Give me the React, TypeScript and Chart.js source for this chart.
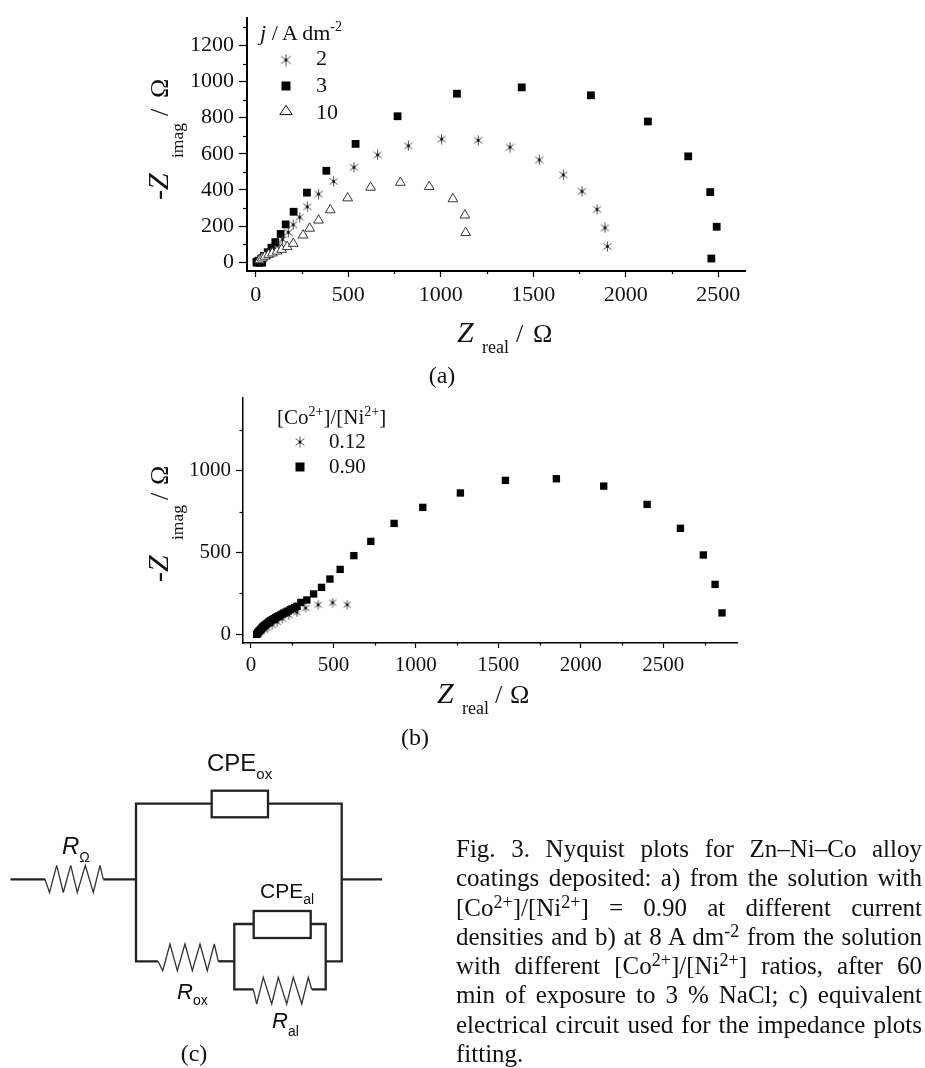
import React, { useEffect, useRef } from "react";
import { Chart, registerables } from "chart.js";

Chart.register(...registerables);

const SERIF = '"Liberation Serif", serif';
const SANS = '"Liberation Sans", sans-serif';

// Panel (a)
const aStarX = [20, 40, 60, 80, 100, 120, 145, 176, 203, 238, 279, 340, 421, 531, 659, 825, 1005, 1203, 1375, 1533, 1663, 1764, 1845, 1888, 1901];
const aStarY = [8, 20, 35, 50, 70, 95, 125, 165, 207, 249, 307, 377, 447, 525, 594, 644, 681, 675, 637, 566, 483, 392, 292, 190, 87];
const aSquareX = [5, 20, 35, 5, 15, 30, 45, 65, 85, 106, 135, 162, 205, 277, 382, 540, 767, 1088, 1438, 1812, 2120, 2338, 2457, 2492, 2463];
const aSquareY = [-3, -3, -3, 2, 8, 20, 35, 55, 80, 111, 156, 209, 279, 385, 506, 655, 808, 933, 968, 924, 779, 586, 388, 196, 20];
const aTriangleX = [20, 35, 50, 70, 90, 115, 140, 170, 203, 256, 292, 340, 403, 497, 621, 782, 938, 1066, 1131, 1135];
const aTriangleY = [12, 22, 32, 42, 50, 60, 70, 85, 103, 149, 187, 232, 289, 355, 414, 441, 418, 350, 260, 163];
const aXTicks = [0, 500, 1000, 1500, 2000, 2500];
const aXMinor = [250, 750, 1250, 1750, 2250];
const aYTicks = [0, 200, 400, 600, 800, 1000, 1200];
const aYMinor = [100, 300, 500, 700, 900, 1100, 1300];

// Panel (b)
const bStarX = [45, 60, 80, 100, 130, 160, 190, 230, 279, 331, 408, 495, 584];
const bStarY = [8, 18, 30, 40, 58, 75, 95, 118, 134, 161, 181, 194, 181];
const bSquareX = [35, 38, 42, 46, 50, 55, 60, 65, 70, 75, 82, 90, 98, 105, 112, 120, 130, 140, 150, 160, 170, 180, 190, 200, 212, 225, 238, 250, 265, 280, 303, 339, 380, 428, 479, 541, 624, 727, 868, 1042, 1270, 1543, 1852, 2139, 2402, 2604, 2743, 2814, 2856];
const bSquareY = [0, 3, 8, 15, 20, 25, 30, 36, 42, 48, 54, 60, 66, 72, 78, 84, 90, 96, 102, 108, 113, 118, 124, 130, 136, 142, 150, 156, 164, 172, 195, 210, 247, 287, 338, 397, 481, 568, 678, 776, 864, 941, 951, 906, 794, 648, 485, 305, 131];
const bXTicks = [0, 500, 1000, 1500, 2000, 2500];
const bXMinor = [250, 750, 1250, 1750, 2250, 2750];
const bYTicks = [0, 500, 1000];
const bYMinor = [250, 750, 1250];

const captionLines = [
  <>Fig. 3. Nyquist plots for Zn–Ni–Co alloy</>,
  <>coatings deposited: a) from the solution with</>,
  <>[Co<Sup>2+</Sup>]/[Ni<Sup>2+</Sup>] = 0.90 at different current</>,
  <>densities and b) at 8 A dm<Sup>-2</Sup> from the solution</>,
  <>with different [Co<Sup>2+</Sup>]/[Ni<Sup>2+</Sup>] ratios, after 60</>,
  <>min of exposure to 3 % NaCl; c) equivalent</>,
  <>electrical circuit used for the impedance plots</>,
];

function Sup({ children }: { children: React.ReactNode }) {
  return <sup style={{ fontSize: "72%", lineHeight: 0, verticalAlign: "0.42em" }}>{children}</sup>;
}

function asterisk(size: number) {
  const c = document.createElement("canvas");
  c.width = size;
  c.height = size;
  const g = c.getContext("2d")!;
  const m = size / 2;
  g.strokeStyle = "#3a3a3a";
  g.lineWidth = 0.9;
  for (const a of [90, 38, -38]) {
    const dx = Math.cos((a * Math.PI) / 180) * (m - 0.4);
    const dy = Math.sin((a * Math.PI) / 180) * (m - 0.4);
    g.beginPath();
    g.moveTo(m - dx, m + dy);
    g.lineTo(m + dx, m - dy);
    g.stroke();
  }
  g.fillStyle = "#000";
  g.fillRect(m - 1.2, m - 1.2, 2.4, 2.4);
  return c;
}

function points(xs: number[], ys: number[]) {
  return xs.map((x, i) => ({ x, y: ys[i] }));
}

type LegendMark = { style: any; radius: number; x: number; y: number; fill: string };

function panel(
  canvas: HTMLCanvasElement,
  o: {
    datasets: any[];
    xr: [number, number];
    yr: [number, number];
    xTicks: number[];
    xMinor: number[];
    yTicks: number[];
    yMinor: number[];
    leftW: number;
    bottomH: number;
    top: number;
    right: number;
    font: number;
    axis: number;
    xTickLen: number;
    yTickLen: number;
    xPad: number;
    yPad: number;
    legend: LegendMark[];
  }
) {
  const ticksPlugin = {
    id: "minorTicksAndKey",
    afterDraw(chart: any) {
      const g = chart.ctx;
      const { x, y } = chart.scales;
      g.save();
      g.strokeStyle = "#000";
      g.lineWidth = 1.2;
      for (const v of o.xMinor) {
        const p = Math.round(x.getPixelForValue(v)) + 0.5;
        g.beginPath();
        g.moveTo(p, chart.chartArea.bottom);
        g.lineTo(p, chart.chartArea.bottom + o.xTickLen / 2);
        g.stroke();
      }
      for (const v of o.yMinor) {
        const p = Math.round(y.getPixelForValue(v)) + 0.5;
        g.beginPath();
        g.moveTo(chart.chartArea.left, p);
        g.lineTo(chart.chartArea.left - o.yTickLen / 2, p);
        g.stroke();
      }
      for (const m of o.legend) {
        const r = m.radius;
        if (m.style instanceof HTMLCanvasElement) {
          g.drawImage(m.style, m.x - m.style.width / 2, m.y - m.style.height / 2);
        } else if (m.style === "rect") {
          g.fillStyle = m.fill;
          g.fillRect(m.x - r, m.y - r, r * 2, r * 2);
        } else {
          g.strokeStyle = "#111";
          g.lineWidth = 1;
          g.beginPath();
          g.moveTo(m.x - r, m.y + r * 0.58);
          g.lineTo(m.x + r, m.y + r * 0.58);
          g.lineTo(m.x, m.y - r * 0.9);
          g.closePath();
          g.stroke();
        }
      }
      g.restore();
    },
  };

  const axis = (
    side: "x" | "y",
    range: [number, number],
    ticks: number[],
    tl: number,
    pad: number,
    size: number
  ) => ({
    type: "linear",
    position: side === "x" ? "bottom" : "left",
    min: range[0],
    max: range[1],
    afterBuildTicks: (s: any) => {
      s.ticks = ticks.map((value) => ({ value }));
    },
    afterFit: (s: any) => {
      if (side === "x") s.height = size;
      else s.width = size;
    },
    border: { display: true, color: "#000", width: o.axis },
    grid: { drawOnChartArea: false, drawTicks: true, tickLength: tl, color: "#000", tickWidth: 1.2 },
    ticks: {
      autoSkip: false,
      maxRotation: 0,
      color: "#111",
      padding: pad,
      font: { family: SERIF, size: o.font },
      callback: (v: number) => String(v),
    },
  });

  return new Chart(canvas, {
    type: "scatter",
    data: { datasets: o.datasets },
    options: {
      responsive: false,
      animation: false,
      clip: false,
      layout: { padding: { top: o.top, right: o.right, left: 0, bottom: 0 } },
      plugins: { legend: { display: false }, title: { display: false }, tooltip: { enabled: false } },
      scales: {
        x: axis("x", o.xr, o.xTicks, o.xTickLen, o.xPad, o.bottomH),
        y: axis("y", o.yr, o.yTicks, o.yTickLen, o.yPad, o.leftW),
      },
    } as any,
    plugins: [ticksPlugin as any],
  } as any);
}

export default function App() {
  const refA = useRef<HTMLCanvasElement>(null);
  const refB = useRef<HTMLCanvasElement>(null);

  useEffect(() => {
    const starA = asterisk(11);
    const starB = asterisk(10);
    const a = panel(refA.current!, {
      xr: [-47, 2645],
      yr: [-49, 1351],
      xTicks: aXTicks,
      xMinor: aXMinor,
      yTicks: aYTicks,
      yMinor: aYMinor,
      leftW: 147,
      bottomH: 49,
      top: 14,
      right: 35,
      font: 22,
      axis: 2,
      xTickLen: 6,
      yTickLen: 8,
      xPad: 5,
      yPad: 5,
      legend: [
        { style: asterisk(13), radius: 6, x: 186, y: 60, fill: "#000" },
        { style: "rect", radius: 4.5, x: 186, y: 86, fill: "#000" },
        { style: "triangle", radius: 6.2, x: 186, y: 111, fill: "#fff" },
      ],
      datasets: [
        {
          label: "10",
          data: points(aTriangleX, aTriangleY),
          order: 1,
          pointStyle: "triangle",
          pointRadius: 5.6,
          pointBackgroundColor: "#fff",
          pointBorderColor: "#222",
          pointBorderWidth: 0.9,
          showLine: false,
        },
        {
          label: "2",
          data: points(aStarX, aStarY),
          order: 2,
          pointStyle: starA,
          pointRadius: 5,
          showLine: false,
        },
        {
          label: "3",
          data: points(aSquareX, aSquareY),
          order: 3,
          pointStyle: "rect",
          pointRadius: 5.5,
          pointBackgroundColor: "#000",
          pointBorderColor: "#000",
          pointBorderWidth: 0,
          showLine: false,
        },
      ],
    });
    const b = panel(refB.current!, {
      xr: [-48, 2947],
      yr: [-53, 1447],
      xTicks: bXTicks,
      xMinor: bXMinor,
      yTicks: bYTicks,
      yMinor: bYMinor,
      leftW: 143,
      bottomH: 47,
      top: 17,
      right: 43,
      font: 21,
      axis: 1.5,
      xTickLen: 5,
      yTickLen: 7,
      xPad: 5,
      yPad: 5,
      legend: [
        { style: asterisk(12), radius: 5, x: 200, y: 62, fill: "#000" },
        { style: "rect", radius: 4.5, x: 200, y: 87, fill: "#000" },
      ],
      datasets: [
        {
          label: "0.90",
          data: points(bSquareX, bSquareY),
          order: 1,
          pointStyle: "rect",
          pointRadius: 5.2,
          pointBackgroundColor: "#000",
          pointBorderColor: "#000",
          pointBorderWidth: 0,
          showLine: false,
        },
        {
          label: "0.12",
          data: points(bStarX, bStarY),
          order: 2,
          pointStyle: starB,
          pointRadius: 5,
          showLine: false,
        },
      ],
    });
    return () => {
      a.destroy();
      b.destroy();
    };
  }, []);

  const wire = { fill: "none", stroke: "#222", strokeWidth: 2.3, strokeLinejoin: "miter" as const };
  const thin = { fill: "none", stroke: "#333", strokeWidth: 1.3 };
  const sans = { fontFamily: SANS, fill: "#111" };
  const serif = { fontFamily: SERIF, fill: "#111" };

  return (
    <div style={{ position: "absolute", left: 0, top: 0, width: 925, height: 1068, background: "#fff", overflow: "hidden" }}>
      <canvas ref={refA} width={680} height={320} style={{ position: "absolute", left: 100, top: 0 }} />
      <canvas ref={refB} width={680} height={310} style={{ position: "absolute", left: 100, top: 380 }} />

      <svg width={925} height={1068} style={{ position: "absolute", left: 0, top: 0 }}>
        {/* Panel (a) text */}
        <text x={260} y={40} {...serif} fontSize={22}>
          <tspan fontStyle="italic">j</tspan> / A dm<tspan fontSize={14} dy={-9}>-2</tspan>
        </text>
        <text x={316} y={65} {...serif} fontSize={22}>2</text>
        <text x={316} y={92} {...serif} fontSize={22}>3</text>
        <text x={316} y={119} {...serif} fontSize={22}>10</text>
        <text transform="translate(168,200) rotate(-90)" {...serif} fontSize={30}>
          <tspan x={0}>-</tspan>
          <tspan x={10} fontStyle="italic">Z</tspan>
          <tspan x={42} dy={15} fontSize={17.5}>imag</tspan>
          <tspan x={84} dy={-15} fontSize={26}>/</tspan>
          <tspan x={102} fontSize={26}>Ω</tspan>
        </text>
        <text x={457} y={342} {...serif} fontSize={30}>
          <tspan fontStyle="italic">Z</tspan>
          <tspan x={482} dy={11} fontSize={18}>real</tspan>
          <tspan x={516} dy={-11} fontSize={26}>/</tspan>
          <tspan x={533} fontSize={26}>Ω</tspan>
        </text>
        <text x={442} y={383} {...serif} fontSize={24} textAnchor="middle">(a)</text>

        {/* Panel (b) text */}
        <text x={277} y={424} {...serif} fontSize={21}>
          [Co<tspan fontSize={14} dy={-8}>2+</tspan><tspan dy={8}>]/[Ni</tspan><tspan fontSize={14} dy={-8}>2+</tspan><tspan dy={8}>]</tspan>
        </text>
        <text x={329} y={448} {...serif} fontSize={21}>0.12</text>
        <text x={329} y={473} {...serif} fontSize={21}>0.90</text>
        <text transform="translate(168,582) rotate(-90)" {...serif} fontSize={30}>
          <tspan x={0}>-</tspan>
          <tspan x={10} fontStyle="italic">Z</tspan>
          <tspan x={42} dy={15} fontSize={17.5}>imag</tspan>
          <tspan x={82} dy={-15} fontSize={26}>/</tspan>
          <tspan x={97} fontSize={26}>Ω</tspan>
        </text>
        <text x={437} y={703} {...serif} fontSize={30}>
          <tspan fontStyle="italic">Z</tspan>
          <tspan x={462} dy={11} fontSize={18}>real</tspan>
          <tspan x={495} dy={-11} fontSize={26}>/</tspan>
          <tspan x={510} fontSize={26}>Ω</tspan>
        </text>
        <text x={415} y={745} {...serif} fontSize={24} textAnchor="middle">(b)</text>

        {/* Circuit (c) */}
        <polyline {...wire} points="10.5,879.3 45,879.3" />
        <polyline {...thin} points="45,879.3 49.5,892.5 56.7,865.3 63.3,892.5 70.7,865.3 77.3,892.5 85.3,865.3 93.3,892.5 100,865.3 103.3,879.3" />
        <polyline {...wire} points="103.3,879.3 136,879.3" />
        <polyline {...wire} points="211.7,803.7 136,803.7 136,961.3 158,961.3" />
        <rect {...wire} x={211.7} y={790.7} width={56.3} height={26.6} />
        <polyline {...wire} points="268,803.7 341.7,803.7 341.7,961.3 325.7,961.3" />
        <polyline {...wire} points="341.7,879.3 382,879.3" />
        <polyline {...thin} points="158,961.3 162.7,970.7 170,944 177.3,970.7 185,944 192.3,970.7 200,944 207.3,970.7 214.3,944 218.3,961.3" />
        <polyline {...wire} points="218.3,961.3 234.3,961.3" />
        <polyline {...wire} points="253.7,924 234.3,924 234.3,989.3 253.3,989.3" />
        <rect {...wire} x={253.7} y={911} width={57} height={27} />
        <polyline {...wire} points="310.7,924 325.7,924 325.7,989.3 311.7,989.3" />
        <polyline {...thin} points="253.3,989.3 256.7,1004 263.3,977.3 271.7,1004 278.3,977.3 286.7,1004 293.3,977.3 301.7,1004 308.3,977.3 311.7,989.3" />
        <text x={207} y={771} {...sans} fontSize={24}>CPE<tspan fontSize={15} dy={8}>ox</tspan></text>
        <text x={62} y={854} {...sans} fontSize={24} fontStyle="italic">R<tspan fontStyle="normal" fontSize={14} dy={8}>Ω</tspan></text>
        <text x={260} y={898} {...sans} fontSize={21}>CPE<tspan fontSize={14} dy={6}>al</tspan></text>
        <text x={177} y={999} {...sans} fontSize={22} fontStyle="italic">R<tspan fontStyle="normal" fontSize={14} dy={6}>ox</tspan></text>
        <text x={272} y={1028} {...sans} fontSize={22} fontStyle="italic">R<tspan fontStyle="normal" fontSize={14} dy={8}>al</tspan></text>
        <text x={194} y={1061} {...serif} fontSize={24} textAnchor="middle">(c)</text>
      </svg>

      <div style={{ position: "absolute", left: 456, top: 834, width: 466, fontFamily: SERIF, fontSize: 25, lineHeight: "29.3px", color: "#111" }}>
        {captionLines.map((line, i) => (
          <div key={i} style={{ textAlign: "justify", textAlignLast: "justify" }}>{line}</div>
        ))}
        <div>fitting.</div>
      </div>
    </div>
  );
}
